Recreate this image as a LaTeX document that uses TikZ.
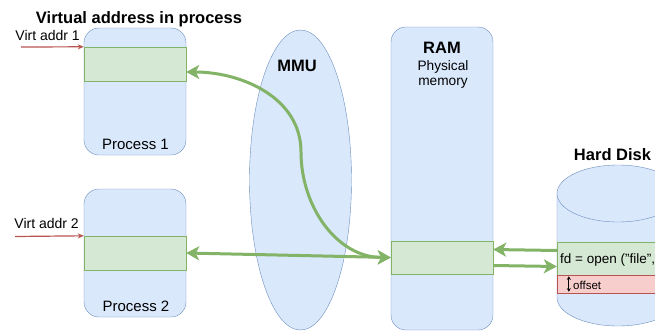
\documentclass[tikz,border=0pt]{standalone}
\usepackage{fontspec}
\setmainfont{Liberation Sans}
\usetikzlibrary{shapes.geometric,arrows.meta}

\definecolor{memfill}{HTML}{DAE8FC}
\definecolor{memline}{HTML}{6C8EBF}
\definecolor{pagefill}{HTML}{D5E8D4}
\definecolor{pageline}{HTML}{82B366}
\definecolor{offfill}{HTML}{F8CECC}
\definecolor{offline}{HTML}{B85450}

\begin{document}
\begin{tikzpicture}[x=1pt, y=-1pt,
  >={Stealth[length=13pt,width=14pt,inset=3.5pt]},
  box/.style={draw=memline, fill=memfill, rounded corners=15pt, minimum width=102pt, inner sep=0pt},
  band/.style={draw=pageline, fill=pagefill, minimum width=102pt, minimum height=34pt, inner sep=0pt},
  heading/.style={font=\fontsize{16.5}{19}\selectfont\bfseries, anchor=base, inner sep=0pt},
  txt/.style={font=\fontsize{14}{17}\selectfont, anchor=base, inner sep=0pt},
  link/.style={draw=pageline, line width=3pt},
  vaddr/.style={draw=offline, line width=1.2pt, -{Stealth[length=6pt,width=5pt]}}]

\clip (0,0) rectangle (655,332);

\node[heading] (vtitle) at (139,23.3) {Virtual address in process};

\node[box, minimum height=127pt] (proc1) at (135,91.5) {};
\node[band] (p1band) at (135,64) {};
\node[txt, font=\fontsize{15}{18}\selectfont] (p1name) at (135.5,149) {Process 1};

\node[box, minimum height=128pt] (proc2) at (135,253) {};
\node[band] (p2band) at (135,253) {};
\node[txt, font=\fontsize{15}{18}\selectfont] (p2name) at (136,311.5) {Process 2};

\node[txt, anchor=base east] (va1txt) at (80,40.5) {Virt addr 1};
\coordinate (va1) at (21,47);
\draw[vaddr] (va1) -- (p1band.north west);

\node[txt, anchor=base east] (va2txt) at (79,228) {Virt addr 2};
\coordinate (va2) at (15,236.5);
\draw[vaddr] (va2) -- (p2band.north west);

\node[ellipse, draw=memline, fill=memfill, minimum width=102pt, minimum height=300pt, inner sep=0pt] (mmu) at (300.5,180) {};
\node[heading] (mmuname) at (297,71.7) {MMU};

\node[box, minimum height=303pt] (ram) at (442,178.5) {};
\node[band, minimum height=33pt] (ramband) at (442,257.5) {};
\node[heading] (ramname) at (442,53.3) {RAM};
\node[txt, font=\fontsize{13.7}{16}\selectfont] (ramsub1) at (443,70) {Physical};
\node[txt, font=\fontsize{13.7}{16}\selectfont] (ramsub2) at (443,85.5) {memory};

\path[fill=memfill] (557,193.5) -- (557,297.5) arc[start angle=180, end angle=360, x radius=61pt, y radius=28.5pt] -- (679,193.5) -- cycle;
\draw[memline] (557,193.5) -- (557,297.5) arc[start angle=180, end angle=360, x radius=61pt, y radius=28.5pt] -- (679,193.5);
\draw[memline, fill=memfill] (618,193.5) ellipse[x radius=61pt, y radius=28.5pt];
\node[heading] (diskname) at (612.5,160.7) {Hard Disk};

\node[band, minimum width=122pt, minimum height=33pt] (dband) at (618,258.5) {};
\node[band, draw=offline, fill=offfill, minimum width=122pt, minimum height=18pt] (oband) at (618,284) {};
\node[txt, anchor=base west, font=\fontsize{13.5}{16}\selectfont] (fdopen) at (560,263) {fd = open ("file",};
\node[txt, anchor=base west, font=\fontsize{11.5}{14}\selectfont] (offtxt) at (573,289) {offset};
\draw[line width=0.7pt, {Stealth[length=3.5pt,width=4pt]}-{Stealth[length=3.5pt,width=4pt]}] ([xshift=12pt,yshift=-1.5pt]oband.north west) -- ([xshift=12pt,yshift=1.5pt]oband.south west);

\coordinate (bend) at (301,152);
\draw[link, <->] ([yshift=-8pt]p1band.east) to[out=0, in=90] (bend) to[out=270, in=180] (ramband.west);
\draw[link, <->] (p2band.east) -- (ramband.west);

\draw[link, ->] ([yshift=8pt]dband.west) -- ([yshift=8pt]ramband.east);
\draw[link, ->] ([yshift=-8pt]ramband.east) -- ([yshift=-8pt]dband.west);

\end{tikzpicture}
\end{document}
